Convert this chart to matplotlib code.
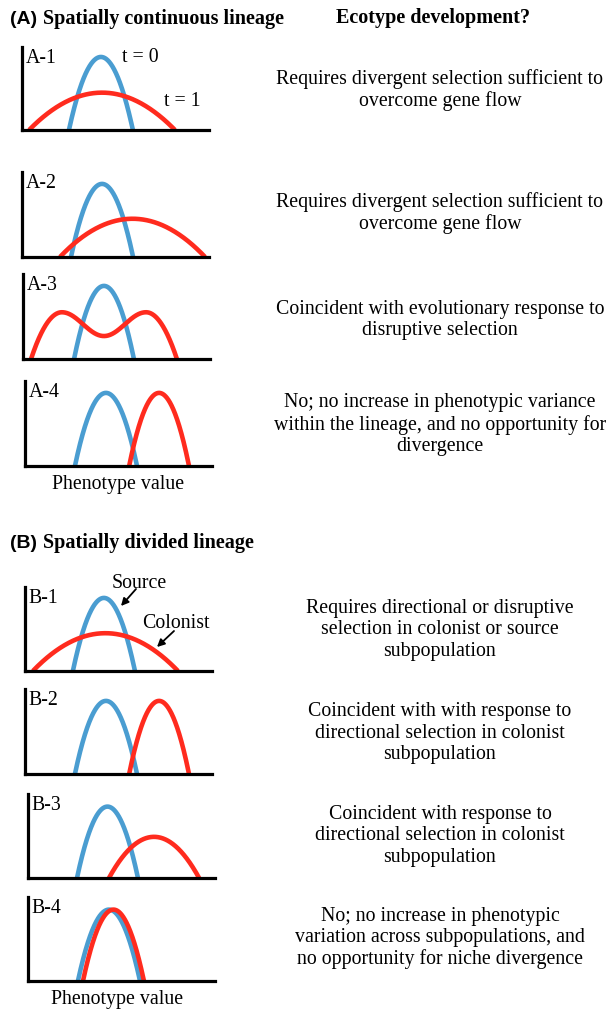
import numpy as np
import matplotlib
matplotlib.use("Agg")
import matplotlib.pyplot as plt

W_PX, H_PX = 609, 1012
BLUE = "#4A9DD1"
RED = "#FF2B1E"
SERIF = ["Liberation Serif", "DejaVu Serif"]
SANS = ["Liberation Sans", "DejaVu Sans"]
FS = 14.3

# ---------------- data (phenotype units 0..10, frequency 0..1) ----------------
panel_labels = ["A-1", "A-2", "A-3", "A-4", "B-1", "B-2", "B-3", "B-4"]
# blue (t = 0 / source) curves: center, half-width, height
blue_center = [4.22, 4.28, 4.33, 4.33, 4.22, 4.33, 4.25, 4.33]
blue_halfw  = [1.71, 1.66, 1.60, 1.66, 1.66, 1.66, 1.63, 1.66]
blue_height = [0.88, 0.86, 0.86, 0.86, 0.87, 0.86, 0.85, 0.85]
# red (t = 1 / colonist) curves: center, half-width, height  (A-3 is bimodal)
red_center = [4.28, 5.91, 4.33, 7.17, 4.30, 7.17, 6.74, 4.57]
red_halfw  = [3.90, 3.88, 3.90, 1.60, 3.88, 1.60, 2.41, 1.63]
red_height = [0.45, 0.45, 0.55, 0.86, 0.45, 0.86, 0.49, 0.85]
# bimodal A-3: offset of the two peaks from centre and height of the central dip
bimodal_peak_offset = 2.25
bimodal_trough = 0.27

texts = [
    "Requires divergent selection sufficient to\novercome gene flow",
    "Requires divergent selection sufficient to\novercome gene flow",
    "Coincident with evolutionary response to\ndisruptive selection",
    "No; no increase in phenotypic variance\nwithin the lineage, and no opportunity for\ndivergence",
    "Requires directional or disruptive\nselection in colonist or source\nsubpopulation",
    "Coincident with with response to\ndirectional selection in colonist\nsubpopulation",
    "Coincident with response to\ndirectional selection in colonist\nsubpopulation",
    "No; no increase in phenotypic\nvariation across subpopulations, and\nno opportunity for niche divergence",
]

# ---------------- layout (pixels) ----------------
ax_left   = [22, 22, 23, 25, 25, 25, 28, 28]
ax_base   = [131, 258, 360, 467, 672, 775, 879, 982]
ax_height = [83, 85, 85, 85, 84, 85, 84, 84]
ax_width  = 187
text_center_y = [90, 213, 320, 424.5, 630, 733, 836, 938]
text_center_x = 440

fig = plt.figure(figsize=(W_PX / 100, H_PX / 100), dpi=100)


def fx(px):
    return px / W_PX


def fy(py):
    return 1 - py / H_PX


def parabola(c, hw, h):
    x = np.linspace(c - hw, c + hw, 300)
    return x, h * (1 - ((x - c) / hw) ** 2)


def bimodal(c, z, hp, p, ht):
    u = np.linspace(-z, z, 600)
    au = np.abs(u)
    y = np.where(
        au <= p,
        ht + (hp - ht) * (1 - np.cos(np.pi * au / p)) / 2,
        hp * (1 - ((au - p) / (z - p)) ** 2),
    )
    return c + u, y


axes = []
for i in range(8):
    ax = fig.add_axes([fx(ax_left[i]), fy(ax_base[i]), fx(ax_width), ax_height[i] / H_PX])
    ax.set_xlim(0, 10)
    ax.set_ylim(0, 1)
    for s in ["top", "right"]:
        ax.spines[s].set_visible(False)
    for s in ["left", "bottom"]:
        ax.spines[s].set_linewidth(2.3)
        ax.spines[s].set_color("black")
        ax.spines[s].set_zorder(5)
    ax.set_xticks([])
    ax.set_yticks([])
    ax.patch.set_alpha(0)

    bx, by = parabola(blue_center[i], blue_halfw[i], blue_height[i])
    ax.plot(bx, by, color=BLUE, lw=3.3, solid_capstyle="butt", clip_on=False, zorder=2)
    if panel_labels[i] == "A-3":
        rx, ry = bimodal(red_center[i], red_halfw[i], red_height[i],
                         bimodal_peak_offset, bimodal_trough)
    else:
        rx, ry = parabola(red_center[i], red_halfw[i], red_height[i])
    ax.plot(rx, ry, color=RED, lw=3.3, solid_capstyle="butt", clip_on=False, zorder=3)

    ax.text(0.02, 0.99, panel_labels[i], transform=ax.transAxes, ha="left", va="top",
            fontsize=FS, family=SERIF)

    fig.text(fx(text_center_x), fy(text_center_y[i]), texts[i], ha="center", va="center",
             fontsize=FS, family=SERIF, linespacing=1.15)
    axes.append(ax)

# annotations in panel A-1
fig.text(fx(140), fy(57), "t = 0", ha="center", va="center", fontsize=FS, family=SERIF)
fig.text(fx(182), fy(102), "t = 1", ha="center", va="center", fontsize=FS, family=SERIF)

# annotations in panel B-1
fig.text(fx(139), fy(584), "Source", ha="center", va="center", fontsize=FS, family=SERIF)
fig.text(fx(176), fy(624), "Colonist", ha="center", va="center", fontsize=FS, family=SERIF)
arrow = dict(arrowstyle="-|>", color="black", lw=1.3, mutation_scale=11, shrinkA=0, shrinkB=0)
fig.add_artist(matplotlib.patches.FancyArrowPatch((fx(136), fy(590)), (fx(121), fy(607)),
                                                  transform=fig.transFigure, **arrow))
fig.add_artist(matplotlib.patches.FancyArrowPatch((fx(174), fy(632)), (fx(157), fy(648)),
                                                  transform=fig.transFigure, **arrow))

# x-axis labels
fig.text(fx(118), fy(484), "Phenotype value", ha="center", va="center", fontsize=FS, family=SERIF)
fig.text(fx(117), fy(1000), "Phenotype value", ha="center", va="center", fontsize=FS, family=SERIF)

# section headers
fig.text(fx(10), fy(19), "(A)", ha="left", va="center", fontsize=14, family=SANS, weight="bold")
fig.text(fx(43), fy(19), "Spatially continuous lineage", ha="left", va="center",
         fontsize=14.5, family=SERIF, weight="bold")
fig.text(fx(433), fy(18), "Ecotype development?", ha="center", va="center",
         fontsize=14.5, family=SERIF, weight="bold")
fig.text(fx(10), fy(543), "(B)", ha="left", va="center", fontsize=14, family=SANS, weight="bold")
fig.text(fx(43), fy(543), "Spatially divided lineage", ha="left", va="center",
         fontsize=14.5, family=SERIF, weight="bold")

fig.savefig("out.png", dpi=100)
